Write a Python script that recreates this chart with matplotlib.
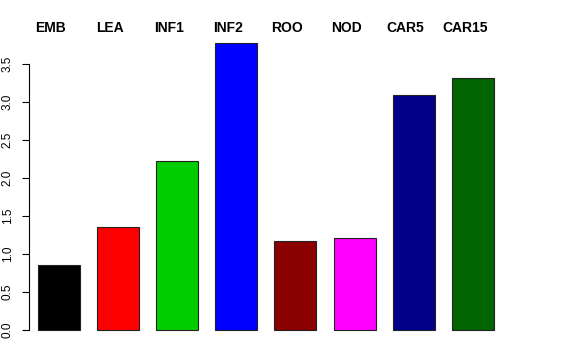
import numpy as np
import matplotlib.pyplot as plt

plt.rcParams['font.family'] = ['Liberation Sans', 'DejaVu Sans']

# tissue groups and their values
groups = ['EMB', 'LEA', 'INF1', 'INF2', 'ROO', 'NOD', 'CAR5', 'CAR15']
values = [0.855, 1.355, 2.22, 3.78, 1.17, 1.21, 3.09, 3.32]
colors = ['black', 'red', '#00CD00', 'blue', '#8B0000', 'magenta', '#00008B', '#006400']

fig = plt.figure(figsize=(5.76, 3.6), dpi=100)
ax = fig.add_axes([29 / 576, 18 / 360, 474 / 576, 311 / 360])

x = np.arange(len(groups))
ax.bar(x, values, width=0.71, color=colors, edgecolor='#222222', linewidth=0.8)

ax.set_xlim(-0.507, 7.51)
ax.set_ylim(-0.158, 3.934)

# group names above the bars (shifted a little left, like the original)
for xi, name in zip(x, groups):
    ax.text(xi - 0.135, 1.01, name, transform=ax.get_xaxis_transform(), ha='center', va='center',
            fontsize=10, fontweight='bold', clip_on=False)

for s in ['top', 'right', 'bottom']:
    ax.spines[s].set_visible(False)
ax.spines['left'].set_bounds(0, 3.5)
ax.spines['left'].set_linewidth(0.8)
ax.set_xticks([])
ax.set_yticks(np.arange(0, 3.51, 0.5))
ax.set_yticklabels([f'{v:.1f}' for v in np.arange(0, 3.51, 0.5)], rotation=90, va='center', fontsize=8.5)
ax.tick_params(axis='y', length=5, width=0.8, pad=6)

fig.savefig('out.png', dpi=100)
